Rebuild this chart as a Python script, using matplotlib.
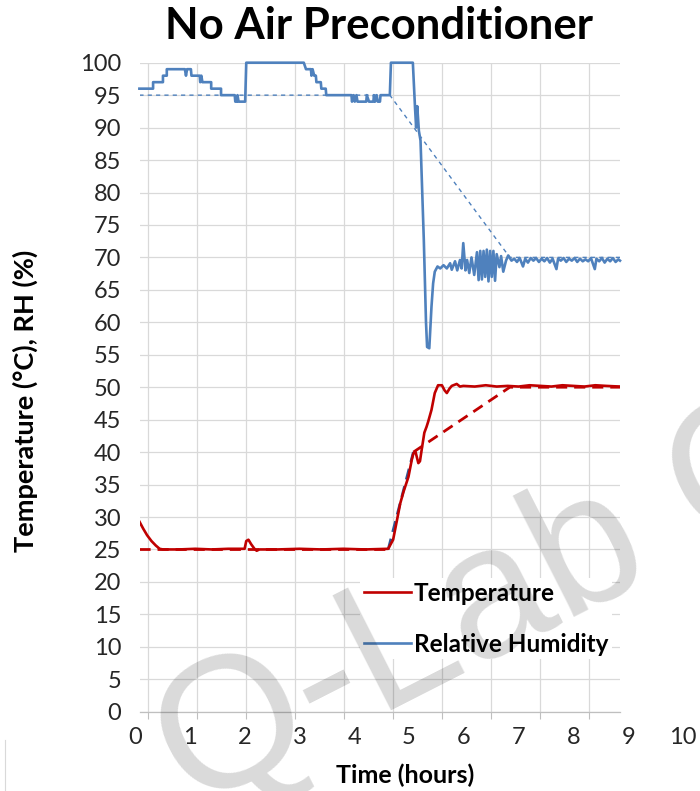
import matplotlib
matplotlib.use('Agg')
import matplotlib.pyplot as plt
import matplotlib.transforms as mtransforms
from matplotlib.lines import Line2D

plt.rcParams['font.family'] = ['Lato', 'DejaVu Sans']

# relative humidity (time in hours, RH in %)
rh_time = [0.08, 0.33, 0.33, 0.51, 0.51, 0.58, 0.58, 0.91, 0.93, 0.95, 1.02, 1.03,
           1.18, 1.19, 1.21, 1.23, 1.39, 1.39, 1.57, 1.57, 1.82, 1.83, 1.86, 1.87,
           1.89, 2.01, 2.03, 3.08, 3.12, 3.21, 3.22, 3.24, 3.27, 3.30, 3.31, 3.39,
           3.40, 3.48, 3.49, 3.77, 3.95, 3.96, 3.99, 4.01, 4.04, 4.06, 4.22, 4.23,
           4.27, 4.35, 4.36, 4.38, 4.41, 4.43, 4.47, 4.48, 4.65, 4.67, 5.07, 5.11,
           5.13, 5.15, 5.18, 5.21, 5.27, 5.31, 5.33, 5.37, 5.41, 5.44, 5.47, 5.52,
           5.57, 5.63, 5.69, 5.75, 5.78, 5.84, 5.88, 5.93, 5.96, 5.99, 6.03, 6.06,
           6.10, 6.14, 6.19, 6.24, 6.27, 6.30, 6.33, 6.36, 6.39, 6.42, 6.45, 6.48,
           6.51, 6.54, 6.57, 6.60, 6.65, 6.68, 6.72, 6.77, 6.81, 6.87, 6.92, 6.97,
           7.02, 7.08, 7.12, 7.17, 7.22, 7.27, 7.32, 7.37, 7.42, 7.47, 7.52, 7.57,
           7.62, 7.69, 7.72, 7.77, 7.82, 7.87, 7.92, 7.97, 8.02, 8.07, 8.12, 8.17,
           8.22, 8.27, 8.32, 8.39, 8.42, 8.47, 8.52, 8.57, 8.62, 8.67, 8.72, 8.77,
           8.82, 8.85]
rh_value = [96, 96, 97, 97, 98, 98, 99, 99, 98, 99, 99, 98,
            98, 97, 98, 97, 97, 96, 96, 95, 95, 94, 94, 95,
            94, 94, 100, 100, 99, 99, 98, 99, 98, 98, 97, 97,
            96, 96, 95, 95, 95, 94, 95, 94, 95, 94, 94, 95,
            94, 94, 95, 94, 95, 94, 94, 95, 95, 100, 100, 93,
            90, 93.3, 89.5, 88, 72.7, 60, 56.2, 56, 62.4, 66, 67.8, 68.6,
            68.3, 68.8, 68.3, 69.1, 68.1, 69.4, 68, 69.6, 68.3, 72.2, 68, 69.6,
            67.6, 70, 67.3, 70.8, 66.5, 71, 66.6, 71, 67, 71.2, 66.3, 71,
            67, 71, 66.4, 70.5, 68.5, 70.2, 67.8, 69.5, 70.3, 69.5, 69.8, 69.3,
            69.9, 68.6, 69.8, 69.2, 69.9, 69.5, 69.9, 69.3, 69.8, 69.4, 69.9, 69.2,
            69.8, 68.2, 69.8, 69.5, 69.9, 69.3, 69.8, 69.5, 69.9, 69.3, 69.8, 69.4,
            69.7, 69.4, 69.9, 68.2, 69.8, 69.4, 69.9, 69.2, 69.8, 69.4, 69.9, 69.3,
            69.7, 69.5]

# temperature (time in hours, deg C)
temp_time = [0.08, 0.15, 0.22, 0.30, 0.38, 0.45, 0.51, 0.80, 1.10, 1.40, 1.70,
             2.00, 2.03, 2.07, 2.12, 2.18, 2.22, 2.27, 2.60, 3.00, 3.40, 3.80,
             4.20, 4.62, 4.71, 4.78, 4.84, 4.90, 4.99, 5.05, 5.08, 5.12, 5.17,
             5.20, 5.23, 5.28, 5.32, 5.35, 5.41, 5.47, 5.53, 5.60, 5.65, 5.69,
             5.74, 5.78, 5.87, 5.93, 5.99, 6.20, 6.40, 6.60, 6.80, 7.00, 7.20,
             7.40, 7.60, 7.80, 8.00, 8.20, 8.40, 8.60, 8.85]
temp_value = [29.3, 28.2, 27.2, 26.3, 25.6, 25.1, 25.0, 25.0, 25.1, 25.0, 25.1,
              25.1, 26.3, 26.5, 25.8, 25.1, 24.8, 25.0, 25.0, 25.1, 25.0, 25.1,
              25.0, 25.1, 26.5, 29.5, 32.1, 33.9, 36.2, 38.8, 39.8, 40.0, 38.3,
              38.6, 40.3, 43.0, 43.9, 44.7, 46.5, 49.1, 50.3, 50.3, 49.5, 49.1,
              49.8, 50.2, 50.5, 50.1, 50.2, 50.1, 50.3, 50.1, 50.2, 50.1, 50.3,
              50.2, 50.1, 50.3, 50.2, 50.1, 50.3, 50.2, 50.1]

# set points (dashed profiles)
rh_set_time = [0.08, 4.65, 6.84, 8.85]
rh_set_value = [95, 95, 70, 70]
temp_set_time = [0.08, 4.62, 5.08, 6.84, 8.85]
temp_set_value = [25, 25, 40, 50, 50]

hour_labels = list(range(0, 11))
y_ticks = list(range(0, 101, 5))

red = '#c00000'
blue = '#4f81bd'
navy = '#2e5596'
grid_col = '#d9d9d9'

fig = plt.figure(figsize=(7, 7.91), dpi=100)
W, H = 700, 791
ax = fig.add_axes([139.5 / W, 1 - 711.7 / H, (620 - 139.5) / W, (711.7 - 62.7) / H])

dash = (0, (4, 2.5))
ax.plot(rh_set_time, rh_set_value, color=blue, lw=1.0, ls=(0, (3, 3)), zorder=2)
ax.plot(temp_set_time[:2], temp_set_value[:2], color=red, lw=2.0, ls=dash, zorder=2)
ax.plot(temp_set_time[1:3], temp_set_value[1:3], color=navy, lw=2.0, ls=dash, zorder=2)
ax.plot(temp_set_time[2:], temp_set_value[2:], color=red, lw=2.0, ls=dash, zorder=2)
ax.plot(rh_time, rh_value, color=blue, lw=1.9, zorder=3, clip_on=False)
ax.plot(temp_time, temp_value, color=red, lw=1.9, zorder=3)

ax.set_xlim(0.082, 8.85)
ax.set_ylim(0, 100)
ax.set_yticks(y_ticks)
ax.tick_params(axis='y', length=0, pad=13, labelsize=17, labelcolor='#262626')

# vertical gridlines sit between the hour labels in the original chart
grid_x = [0.237 + 0.894 * k for k in range(10)]
ax.set_xticks(grid_x)
ax.set_xticklabels([''] * len(grid_x))
ax.tick_params(axis='x', length=5, color='#bfbfbf', width=0.8)
ax.grid(True, color=grid_col, lw=0.9)
ax.set_axisbelow(True)
for s in ['top', 'right', 'left']:
    ax.spines[s].set_visible(False)
ax.spines['bottom'].set_color('#bfbfbf')
ax.spines['bottom'].set_linewidth(0.9)

trans = mtransforms.blended_transform_factory(ax.transData, ax.transAxes)
for h in hour_labels:
    ax.text(h, -0.04, str(h), transform=trans, ha='center', va='center',
            fontsize=17, color='#262626', clip_on=False)

handles = [Line2D([], [], color=red, lw=1.9), Line2D([], [], color=blue, lw=1.9)]
leg = ax.legend(handles, ['Temperature', 'Relative Humidity'], loc='upper left',
                bbox_to_anchor=((360 - 139.5) / 480.5, 1 - (578 - 62.7) / 649),
                frameon=True, fancybox=False, edgecolor='none', facecolor='white',
                framealpha=1, handlelength=1.95, handletextpad=0.12,
                labelspacing=1.15, borderpad=0.15, borderaxespad=0,
                prop={'size': 17.5, 'weight': 'bold'})

fig.text(379 / W, 1 - 26 / H, 'No Air Preconditioner', ha='center', va='center',
         fontsize=31.5, fontweight='bold')
fig.text(25 / W, 1 - 401 / H, 'Temperature (°C), RH (%)', ha='center', va='center',
         rotation=90, fontsize=19.5, fontweight='bold')
fig.text(405 / W, 1 - 775 / H, 'Time (hours)', ha='center', va='center',
         fontsize=18, fontweight='bold')

# watermark
fig.text(192 / W, 1 - 812 / H, 'Q-Lab C', rotation=27, rotation_mode='anchor',
         ha='left', va='baseline', fontsize=135, family='Liberation Sans',
         color='black', alpha=0.15, zorder=10)

fig.add_artist(Line2D([5 / W, 5 / W], [0, 1 - 740 / H], color='#d9d9d9', lw=0.8))

fig.savefig('out.png', dpi=100)
